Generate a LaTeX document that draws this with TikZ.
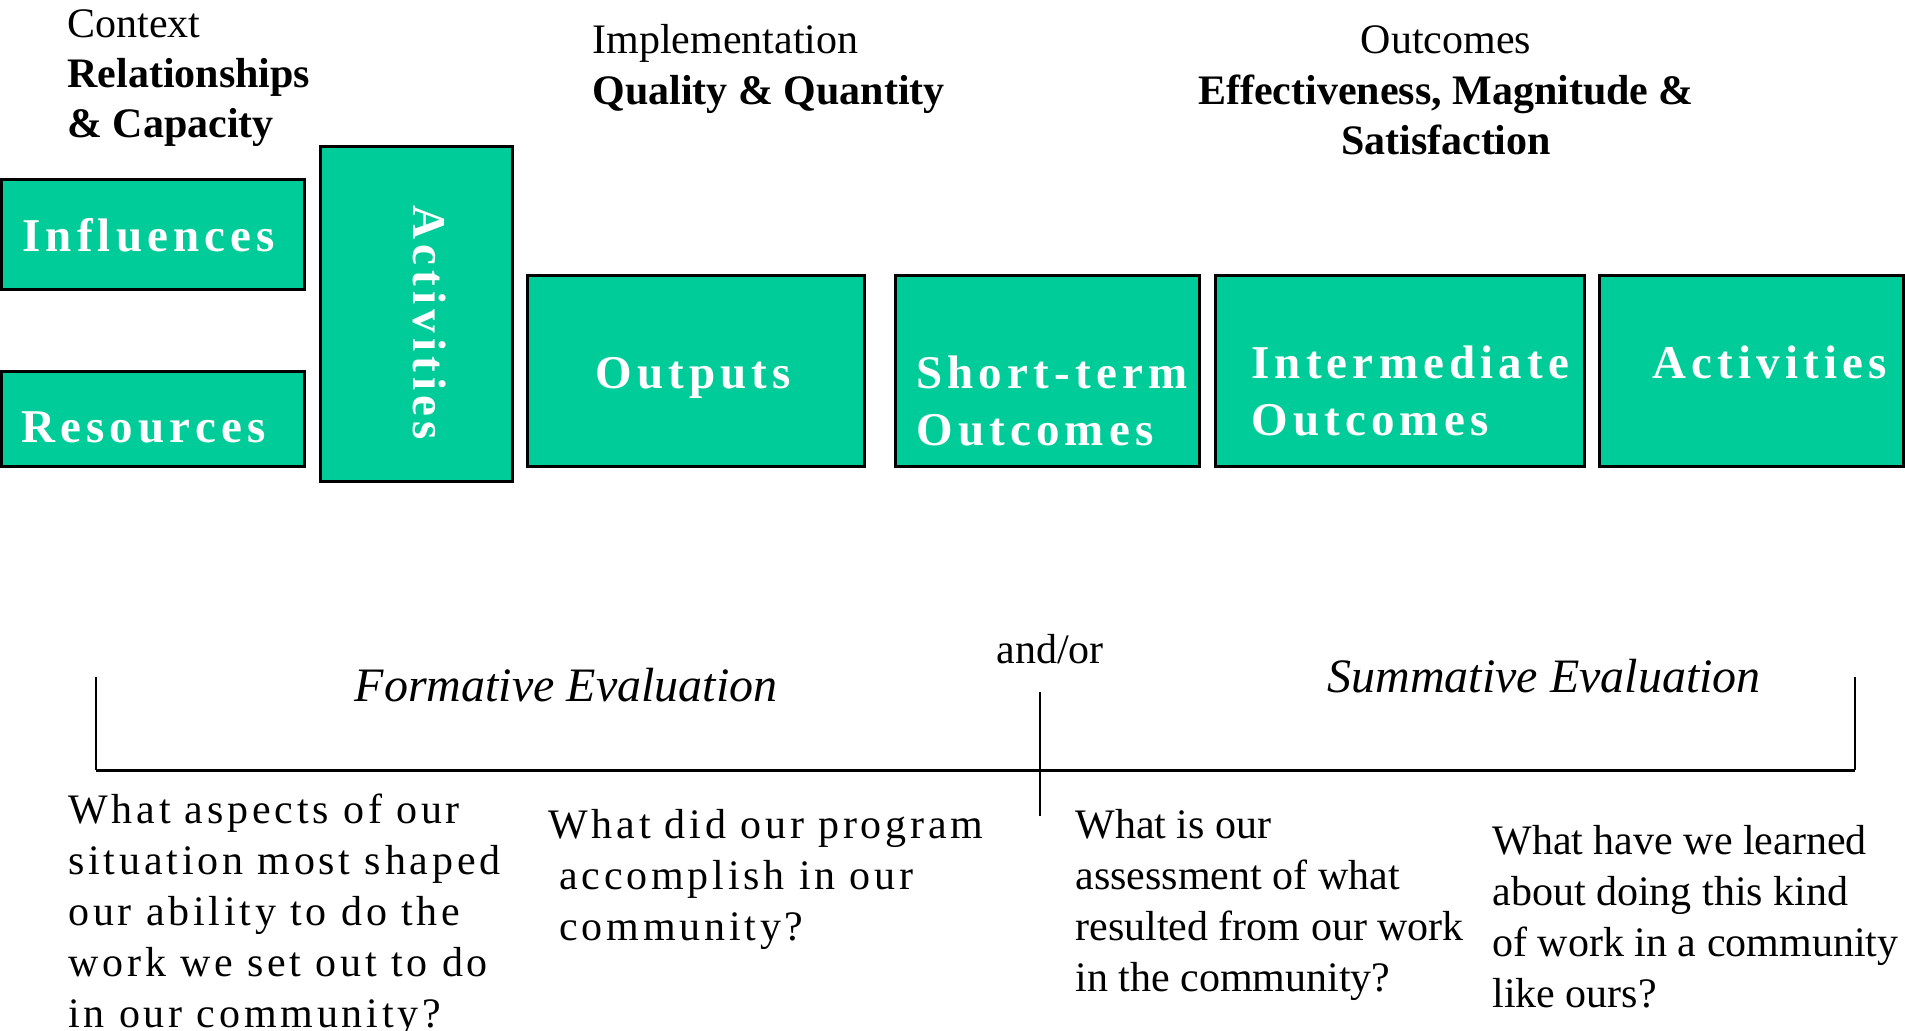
\documentclass[tikz,border=0pt]{standalone}
\usepackage{fontspec}
\setmainfont{Liberation Serif}
\newfontfamily\boxfont{Liberation Serif}[LetterSpace=11]
\newfontfamily\askfont{Liberation Serif}[LetterSpace=9]
\definecolor{stagegreen}{HTML}{00CC99}
\begin{document}
\begin{tikzpicture}[x=0.5pt,y=-0.5pt,
  stage/.style={draw=black,line width=1.5pt,fill=stagegreen,inner sep=0pt,outer sep=0pt,anchor=north west},
  stage label/.style={anchor=base west,inner sep=0pt,text=white,font=\boxfont\bfseries\fontsize{23.5}{28}\selectfont},
  head/.style={anchor=base west,inner sep=0pt,font=\fontsize{21}{25}\selectfont},
  ask/.style={anchor=base west,inner sep=0pt,font=\askfont\fontsize{21}{25}\selectfont},
  plain ask/.style={anchor=base west,inner sep=0pt,font=\fontsize{21}{25}\selectfont},
  eval title/.style={anchor=base,inner sep=0pt,font=\itshape\fontsize{24}{28}\selectfont}]
  \useasboundingbox (0,0) rectangle (1905,1031);

  \node[head] (context) at (67,38) {Context};
  \node[head,font=\bfseries\fontsize{21}{25}\selectfont] (relations) at (67,88) {Relationships};
  \node[head,font=\bfseries\fontsize{21}{25}\selectfont] (capacity) at (67,138) {\& Capacity};
  \node[head] (implement) at (592,54) {Implementation};
  \node[head,font=\bfseries\fontsize{21}{25}\selectfont] (quality) at (592,105) {Quality \& Quantity};
  \node[head,anchor=base] (outcomes) at (1446,54) {Outcomes};
  \node[head,anchor=base,font=\bfseries\fontsize{21}{25}\selectfont] (effect) at (1446,105) {Effectiveness, Magnitude \&};
  \node[head,anchor=base,font=\bfseries\fontsize{21}{25}\selectfont] (satisf) at (1446,155) {Satisfaction};

  \node[stage,minimum width=151.5pt,minimum height=55pt] (influences) at (1.5,180) {};
  \node[stage,minimum width=151.5pt,minimum height=47.5pt] (resources) at (1.5,372) {};
  \node[stage,minimum width=96pt,minimum height=167.5pt] (activities) at (320,147) {};
  \node[stage,minimum width=168.5pt,minimum height=95.5pt] (outputs) at (527,276) {};
  \node[stage,minimum width=152pt,minimum height=95.5pt] (shortterm) at (895,276) {};
  \node[stage,minimum width=184.5pt,minimum height=95.5pt] (intermediate) at (1215,276) {};
  \node[stage,minimum width=152pt,minimum height=95.5pt] (lastact) at (1599,276) {};

  \foreach \n/\x/\y/\t in {influences/22/252/Influences,resources/21/443/Resources,
    outputs/595/389/Outputs,shortterm/916/389/Short-term,shortterm2/916/446/Outcomes,
    intermediate/1251/379/Intermediate,intermediate2/1251/436/Outcomes,lastact/1652/379/Activities}
  \node[stage label] (\n-label) at (\x,\y) {\t};
  \node[stage label,rotate=-90] (activities-label) at (413,205) {Activities};

  \node[eval title] (formative) at (566,701) {Formative Evaluation};
  \node[eval title] (summative) at (1544,692) {Summative Evaluation};
  \node[head,anchor=base] (andor) at (1050,663) {and/or};

  \coordinate (left top) at (96,677);
  \coordinate (left foot) at (96,770);
  \coordinate (right top) at (1855,677);
  \coordinate (right foot) at (1855,770);
  \coordinate (mid top) at (1040,692);
  \coordinate (mid foot) at (1040,816);
  \draw[line width=1pt] (left top) -- (left foot);
  \draw[line width=1pt] (right top) -- (right foot);
  \draw[line width=1.5pt] (left foot) -- (right foot);
  \draw[line width=1pt] (mid top) -- (mid foot);

  \foreach \t[count=\i from 0] in {What aspects of our,situation most shaped,our ability to do the,work we set out to do,in our community?}
  \node[ask] (aspects-\i) at (68,823+51*\i) {\t};
  \foreach \x/\t[count=\i from 0] in {548/What did our program,559/accomplish in our,559/community?}
  \node[ask] (program-\i) at (\x,838+51*\i) {\t};
  \foreach \t[count=\i from 0] in {What is our,assessment of what,resulted from our work,in the community?}
  \node[plain ask] (assess-\i) at (1075,838+51*\i) {\t};
  \foreach \t[count=\i from 0] in {What have we learned,about doing this kind,of work in a community,like ours?}
  \node[plain ask] (learned-\i) at (1492,854+51*\i) {\t};
\end{tikzpicture}
\end{document}
